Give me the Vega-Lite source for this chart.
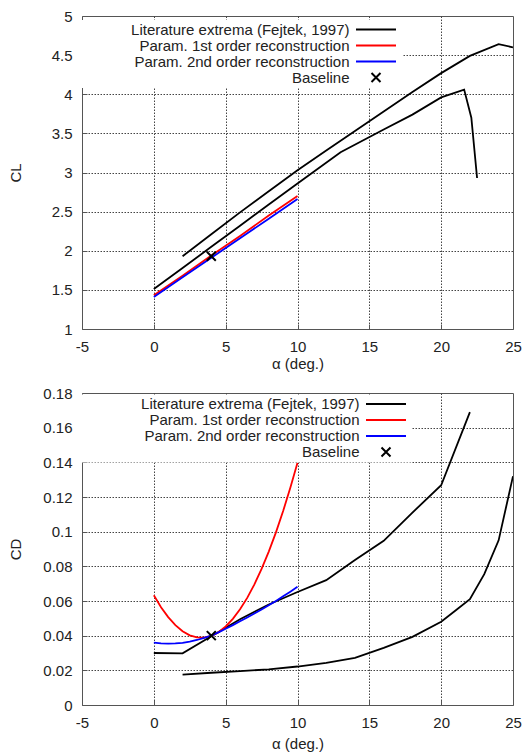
{
  "$schema": "https://vega.github.io/schema/vega-lite/v6.json",
  "padding": {"left": 7, "top": 8, "right": 4, "bottom": 1},
  "config": {
    "font": "Liberation Sans",
    "view": {"stroke": "#555555", "strokeWidth": 1},
    "axis": {
      "domain": false,
      "labelFont": "Liberation Sans",
      "labelFontSize": 15,
      "labelColor": "#222222",
      "labelOverlap": false,
      "labelFlush": false,
      "tickCount": 50,
      "titleFont": "Liberation Sans",
      "titleFontSize": 15,
      "titleFontWeight": "normal",
      "titleColor": "#222222",
      "tickColor": "#555555",
      "tickSize": -5,
      "labelPadding": 15,
      "gridColor": "#444444",
      "gridDash": [1.5, 1.5],
      "gridWidth": 1
    },
    "legend": {
      "labelFont": "Liberation Sans",
      "labelFontSize": 15,
      "labelColor": "#222222",
      "labelLimit": 0
    }
  },
  "datasets": {
    "cl": [
      {"series": "Literature extrema (Fejtek, 1997)", "curve": "a", "alpha": 2, "value": 1.93},
      {"series": "Literature extrema (Fejtek, 1997)", "curve": "a", "alpha": 4, "value": 2.21},
      {"series": "Literature extrema (Fejtek, 1997)", "curve": "a", "alpha": 6, "value": 2.49},
      {"series": "Literature extrema (Fejtek, 1997)", "curve": "a", "alpha": 8, "value": 2.76},
      {"series": "Literature extrema (Fejtek, 1997)", "curve": "a", "alpha": 10, "value": 3.03},
      {"series": "Literature extrema (Fejtek, 1997)", "curve": "a", "alpha": 12, "value": 3.28},
      {"series": "Literature extrema (Fejtek, 1997)", "curve": "a", "alpha": 14, "value": 3.53},
      {"series": "Literature extrema (Fejtek, 1997)", "curve": "a", "alpha": 16, "value": 3.78},
      {"series": "Literature extrema (Fejtek, 1997)", "curve": "a", "alpha": 18, "value": 4.03},
      {"series": "Literature extrema (Fejtek, 1997)", "curve": "a", "alpha": 20, "value": 4.27},
      {"series": "Literature extrema (Fejtek, 1997)", "curve": "a", "alpha": 22, "value": 4.49},
      {"series": "Literature extrema (Fejtek, 1997)", "curve": "a", "alpha": 24, "value": 4.64},
      {"series": "Literature extrema (Fejtek, 1997)", "curve": "a", "alpha": 25, "value": 4.6},
      {"series": "Literature extrema (Fejtek, 1997)", "curve": "b", "alpha": 0, "value": 1.51},
      {"series": "Literature extrema (Fejtek, 1997)", "curve": "b", "alpha": 2, "value": 1.78},
      {"series": "Literature extrema (Fejtek, 1997)", "curve": "b", "alpha": 4, "value": 2.05},
      {"series": "Literature extrema (Fejtek, 1997)", "curve": "b", "alpha": 6, "value": 2.32},
      {"series": "Literature extrema (Fejtek, 1997)", "curve": "b", "alpha": 8, "value": 2.59},
      {"series": "Literature extrema (Fejtek, 1997)", "curve": "b", "alpha": 10, "value": 2.86},
      {"series": "Literature extrema (Fejtek, 1997)", "curve": "b", "alpha": 13, "value": 3.26},
      {"series": "Literature extrema (Fejtek, 1997)", "curve": "b", "alpha": 16, "value": 3.55},
      {"series": "Literature extrema (Fejtek, 1997)", "curve": "b", "alpha": 18, "value": 3.74},
      {"series": "Literature extrema (Fejtek, 1997)", "curve": "b", "alpha": 20, "value": 3.96},
      {"series": "Literature extrema (Fejtek, 1997)", "curve": "b", "alpha": 21.6, "value": 4.06},
      {"series": "Literature extrema (Fejtek, 1997)", "curve": "b", "alpha": 22.1, "value": 3.7},
      {"series": "Literature extrema (Fejtek, 1997)", "curve": "b", "alpha": 22.5, "value": 2.93},
      {"series": "Param. 1st order reconstruction", "curve": "r", "alpha": 0, "value": 1.43},
      {"series": "Param. 1st order reconstruction", "curve": "r", "alpha": 2, "value": 1.68},
      {"series": "Param. 1st order reconstruction", "curve": "r", "alpha": 4, "value": 1.94},
      {"series": "Param. 1st order reconstruction", "curve": "r", "alpha": 6, "value": 2.19},
      {"series": "Param. 1st order reconstruction", "curve": "r", "alpha": 8, "value": 2.45},
      {"series": "Param. 1st order reconstruction", "curve": "r", "alpha": 10, "value": 2.7},
      {"series": "Param. 2nd order reconstruction", "curve": "s", "alpha": 0, "value": 1.41},
      {"series": "Param. 2nd order reconstruction", "curve": "s", "alpha": 2, "value": 1.66},
      {"series": "Param. 2nd order reconstruction", "curve": "s", "alpha": 4, "value": 1.91},
      {"series": "Param. 2nd order reconstruction", "curve": "s", "alpha": 6, "value": 2.16},
      {"series": "Param. 2nd order reconstruction", "curve": "s", "alpha": 8, "value": 2.41},
      {"series": "Param. 2nd order reconstruction", "curve": "s", "alpha": 10, "value": 2.66},
      {"series": "Baseline", "curve": "x", "alpha": 4, "value": 1.93}
    ],
    "cd": [
      {"series": "Literature extrema (Fejtek, 1997)", "curve": "a", "alpha": 0, "value": 0.03},
      {"series": "Literature extrema (Fejtek, 1997)", "curve": "a", "alpha": 2, "value": 0.0298},
      {"series": "Literature extrema (Fejtek, 1997)", "curve": "a", "alpha": 4, "value": 0.0397},
      {"series": "Literature extrema (Fejtek, 1997)", "curve": "a", "alpha": 6, "value": 0.0495},
      {"series": "Literature extrema (Fejtek, 1997)", "curve": "a", "alpha": 8, "value": 0.058},
      {"series": "Literature extrema (Fejtek, 1997)", "curve": "a", "alpha": 10, "value": 0.0652},
      {"series": "Literature extrema (Fejtek, 1997)", "curve": "a", "alpha": 12, "value": 0.072},
      {"series": "Literature extrema (Fejtek, 1997)", "curve": "a", "alpha": 14, "value": 0.0836},
      {"series": "Literature extrema (Fejtek, 1997)", "curve": "a", "alpha": 16, "value": 0.0947},
      {"series": "Literature extrema (Fejtek, 1997)", "curve": "a", "alpha": 18, "value": 0.111},
      {"series": "Literature extrema (Fejtek, 1997)", "curve": "a", "alpha": 20, "value": 0.1268},
      {"series": "Literature extrema (Fejtek, 1997)", "curve": "a", "alpha": 22, "value": 0.169},
      {"series": "Literature extrema (Fejtek, 1997)", "curve": "b", "alpha": 2, "value": 0.0175},
      {"series": "Literature extrema (Fejtek, 1997)", "curve": "b", "alpha": 4, "value": 0.0186},
      {"series": "Literature extrema (Fejtek, 1997)", "curve": "b", "alpha": 6, "value": 0.0195},
      {"series": "Literature extrema (Fejtek, 1997)", "curve": "b", "alpha": 8, "value": 0.0206},
      {"series": "Literature extrema (Fejtek, 1997)", "curve": "b", "alpha": 10, "value": 0.0222},
      {"series": "Literature extrema (Fejtek, 1997)", "curve": "b", "alpha": 12, "value": 0.0243},
      {"series": "Literature extrema (Fejtek, 1997)", "curve": "b", "alpha": 14, "value": 0.0272},
      {"series": "Literature extrema (Fejtek, 1997)", "curve": "b", "alpha": 16, "value": 0.033},
      {"series": "Literature extrema (Fejtek, 1997)", "curve": "b", "alpha": 18, "value": 0.0393},
      {"series": "Literature extrema (Fejtek, 1997)", "curve": "b", "alpha": 20, "value": 0.048},
      {"series": "Literature extrema (Fejtek, 1997)", "curve": "b", "alpha": 21, "value": 0.0545},
      {"series": "Literature extrema (Fejtek, 1997)", "curve": "b", "alpha": 22, "value": 0.061},
      {"series": "Literature extrema (Fejtek, 1997)", "curve": "b", "alpha": 23, "value": 0.0755},
      {"series": "Literature extrema (Fejtek, 1997)", "curve": "b", "alpha": 24, "value": 0.095},
      {"series": "Literature extrema (Fejtek, 1997)", "curve": "b", "alpha": 25, "value": 0.132},
      {"series": "Param. 1st order reconstruction", "curve": "r", "alpha": 0, "value": 0.0633},
      {"series": "Param. 1st order reconstruction", "curve": "r", "alpha": 0.5, "value": 0.0564},
      {"series": "Param. 1st order reconstruction", "curve": "r", "alpha": 1, "value": 0.0507},
      {"series": "Param. 1st order reconstruction", "curve": "r", "alpha": 1.5, "value": 0.0461},
      {"series": "Param. 1st order reconstruction", "curve": "r", "alpha": 2, "value": 0.0426},
      {"series": "Param. 1st order reconstruction", "curve": "r", "alpha": 2.5, "value": 0.0402},
      {"series": "Param. 1st order reconstruction", "curve": "r", "alpha": 3, "value": 0.039},
      {"series": "Param. 1st order reconstruction", "curve": "r", "alpha": 3.5, "value": 0.0389},
      {"series": "Param. 1st order reconstruction", "curve": "r", "alpha": 4, "value": 0.0399},
      {"series": "Param. 1st order reconstruction", "curve": "r", "alpha": 4.5, "value": 0.042},
      {"series": "Param. 1st order reconstruction", "curve": "r", "alpha": 5, "value": 0.0453},
      {"series": "Param. 1st order reconstruction", "curve": "r", "alpha": 5.5, "value": 0.0497},
      {"series": "Param. 1st order reconstruction", "curve": "r", "alpha": 6, "value": 0.0552},
      {"series": "Param. 1st order reconstruction", "curve": "r", "alpha": 6.5, "value": 0.0618},
      {"series": "Param. 1st order reconstruction", "curve": "r", "alpha": 7, "value": 0.0696},
      {"series": "Param. 1st order reconstruction", "curve": "r", "alpha": 7.5, "value": 0.0785},
      {"series": "Param. 1st order reconstruction", "curve": "r", "alpha": 8, "value": 0.0885},
      {"series": "Param. 1st order reconstruction", "curve": "r", "alpha": 8.5, "value": 0.0996},
      {"series": "Param. 1st order reconstruction", "curve": "r", "alpha": 9, "value": 0.1119},
      {"series": "Param. 1st order reconstruction", "curve": "r", "alpha": 9.5, "value": 0.1253},
      {"series": "Param. 1st order reconstruction", "curve": "r", "alpha": 10, "value": 0.1398},
      {"series": "Param. 2nd order reconstruction", "curve": "s", "alpha": 0, "value": 0.036},
      {"series": "Param. 2nd order reconstruction", "curve": "s", "alpha": 0.5, "value": 0.0356},
      {"series": "Param. 2nd order reconstruction", "curve": "s", "alpha": 1, "value": 0.0354},
      {"series": "Param. 2nd order reconstruction", "curve": "s", "alpha": 1.5, "value": 0.0355},
      {"series": "Param. 2nd order reconstruction", "curve": "s", "alpha": 2, "value": 0.0359},
      {"series": "Param. 2nd order reconstruction", "curve": "s", "alpha": 2.5, "value": 0.0366},
      {"series": "Param. 2nd order reconstruction", "curve": "s", "alpha": 3, "value": 0.0375},
      {"series": "Param. 2nd order reconstruction", "curve": "s", "alpha": 3.5, "value": 0.0387},
      {"series": "Param. 2nd order reconstruction", "curve": "s", "alpha": 4, "value": 0.04},
      {"series": "Param. 2nd order reconstruction", "curve": "s", "alpha": 4.5, "value": 0.0419},
      {"series": "Param. 2nd order reconstruction", "curve": "s", "alpha": 5, "value": 0.044},
      {"series": "Param. 2nd order reconstruction", "curve": "s", "alpha": 5.5, "value": 0.0461},
      {"series": "Param. 2nd order reconstruction", "curve": "s", "alpha": 6, "value": 0.0483},
      {"series": "Param. 2nd order reconstruction", "curve": "s", "alpha": 6.5, "value": 0.0505},
      {"series": "Param. 2nd order reconstruction", "curve": "s", "alpha": 7, "value": 0.0528},
      {"series": "Param. 2nd order reconstruction", "curve": "s", "alpha": 7.5, "value": 0.0551},
      {"series": "Param. 2nd order reconstruction", "curve": "s", "alpha": 8, "value": 0.0575},
      {"series": "Param. 2nd order reconstruction", "curve": "s", "alpha": 8.5, "value": 0.06},
      {"series": "Param. 2nd order reconstruction", "curve": "s", "alpha": 9, "value": 0.0627},
      {"series": "Param. 2nd order reconstruction", "curve": "s", "alpha": 9.5, "value": 0.0654},
      {"series": "Param. 2nd order reconstruction", "curve": "s", "alpha": 10, "value": 0.0682},
      {"series": "Baseline", "curve": "x", "alpha": 4, "value": 0.04}
    ]
  },
  "spacing": 13,
  "resolve": {"scale": {"color": "independent"}, "legend": {"color": "independent"}},
  "vconcat": [
    {
      "width": 431,
      "height": 313,
      "data": {"name": "cl"},
      "layer": [
        {
          "transform": [{"filter": "datum.series !== 'Baseline'"}],
          "mark": {"type": "line", "strokeWidth": 1.8, "clip": true},
          "encoding": {
            "x": {
              "field": "alpha", "type": "quantitative", "title": "α (deg.)",
              "scale": {"domain": [-5, 25], "nice": false},
              "axis": {"values": [-5, 0, 5, 10, 15, 20, 25], "format": "d", "titlePadding": 2,
                "labelExpr": "replace(datum.label, '\u2212', '-')",
                "gridOpacity": {"condition": {"test": "datum.value === -5 || datum.value === 25", "value": 0}, "value": 1}}
            },
            "y": {
              "field": "value", "type": "quantitative", "title": "CL",
              "scale": {"domain": [1, 5], "nice": false},
              "axis": {"values": [1, 1.5, 2, 2.5, 3, 3.5, 4, 4.5, 5], "format": "~g", "titlePadding": 27.5,
                "gridOpacity": {"condition": {"test": "datum.value === 1 || datum.value === 5", "value": 0}, "value": 1}}
            },
            "color": {
              "field": "series", "type": "nominal",
              "scale": {
                "domain": ["Literature extrema (Fejtek, 1997)", "Param. 1st order reconstruction", "Param. 2nd order reconstruction", "Baseline"],
                "range": ["#000000", "#ff0000", "#0000ff", "#000000"]
              },
              "legend": {
                "title": null,
                "orient": "none", "legendX": 0, "legendY": 4,
                "symbolType": "M-4,0L4,0", "symbolSize": 100, "symbolStrokeWidth": 2,
                "symbolOffset": 284.5,
                "labelAlign": "right", "labelOffset": -34, "rowPadding": -3.5, "padding": 2,
                "fillColor": "white",
                "encode": {
                  "symbols": {"update": {"shape": {"signal": "datum.value === 'Baseline' ? 'M-0.9,-0.9L0.9,0.9M-0.9,0.9L0.9,-0.9' : 'M-4,0L4,0'"}}}
                }
              }
            },
            "detail": {"field": "curve"}
          }
        },
        {
          "transform": [{"filter": "datum.series === 'Baseline'"}],
          "mark": {"type": "point", "shape": "M-1,-1L1,1M-1,1L1,-1", "size": 81, "filled": false, "stroke": "#000000", "strokeWidth": 2, "opacity": 1},
          "encoding": {
            "x": {"field": "alpha", "type": "quantitative"},
            "y": {"field": "value", "type": "quantitative"}
          }
        }
      ]
    },
    {
      "width": 431,
      "height": 312,
      "data": {"name": "cd"},
      "layer": [
        {
          "transform": [{"filter": "datum.series !== 'Baseline'"}],
          "mark": {"type": "line", "strokeWidth": 1.8, "clip": true},
          "encoding": {
            "x": {
              "field": "alpha", "type": "quantitative", "title": "α (deg.)",
              "scale": {"domain": [-5, 25], "nice": false},
              "axis": {"values": [-5, 0, 5, 10, 15, 20, 25], "format": "d", "titlePadding": 6,
                "labelExpr": "replace(datum.label, '\u2212', '-')",
                "gridOpacity": {"condition": {"test": "datum.value === -5 || datum.value === 25", "value": 0}, "value": 1}}
            },
            "y": {
              "field": "value", "type": "quantitative", "title": "CD",
              "scale": {"domain": [0, 0.18], "nice": false},
              "axis": {"values": [0, 0.02, 0.04, 0.06, 0.08, 0.1, 0.12, 0.14, 0.16, 0.18], "format": "~g", "titlePadding": 19.5,
                "gridOpacity": {"condition": {"test": "datum.value === 0 || datum.value === 0.18", "value": 0}, "value": 1}}
            },
            "color": {
              "field": "series", "type": "nominal",
              "scale": {
                "domain": ["Literature extrema (Fejtek, 1997)", "Param. 1st order reconstruction", "Param. 2nd order reconstruction", "Baseline"],
                "range": ["#000000", "#ff0000", "#0000ff", "#000000"]
              },
              "legend": {
                "title": null,
                "orient": "none", "legendX": 0, "legendY": 1.5,
                "symbolType": "M-4,0L4,0", "symbolSize": 100, "symbolStrokeWidth": 2,
                "symbolOffset": 294.5,
                "labelAlign": "right", "labelOffset": -34, "rowPadding": -3.5, "padding": 2,
                "fillColor": "white",
                "encode": {
                  "symbols": {"update": {"shape": {"signal": "datum.value === 'Baseline' ? 'M-0.9,-0.9L0.9,0.9M-0.9,0.9L0.9,-0.9' : 'M-4,0L4,0'"}}}
                }
              }
            },
            "detail": {"field": "curve"}
          }
        },
        {
          "transform": [{"filter": "datum.series === 'Baseline'"}],
          "mark": {"type": "point", "shape": "M-1,-1L1,1M-1,1L1,-1", "size": 81, "filled": false, "stroke": "#000000", "strokeWidth": 2, "opacity": 1},
          "encoding": {
            "x": {"field": "alpha", "type": "quantitative"},
            "y": {"field": "value", "type": "quantitative"}
          }
        }
      ]
    }
  ]
}
